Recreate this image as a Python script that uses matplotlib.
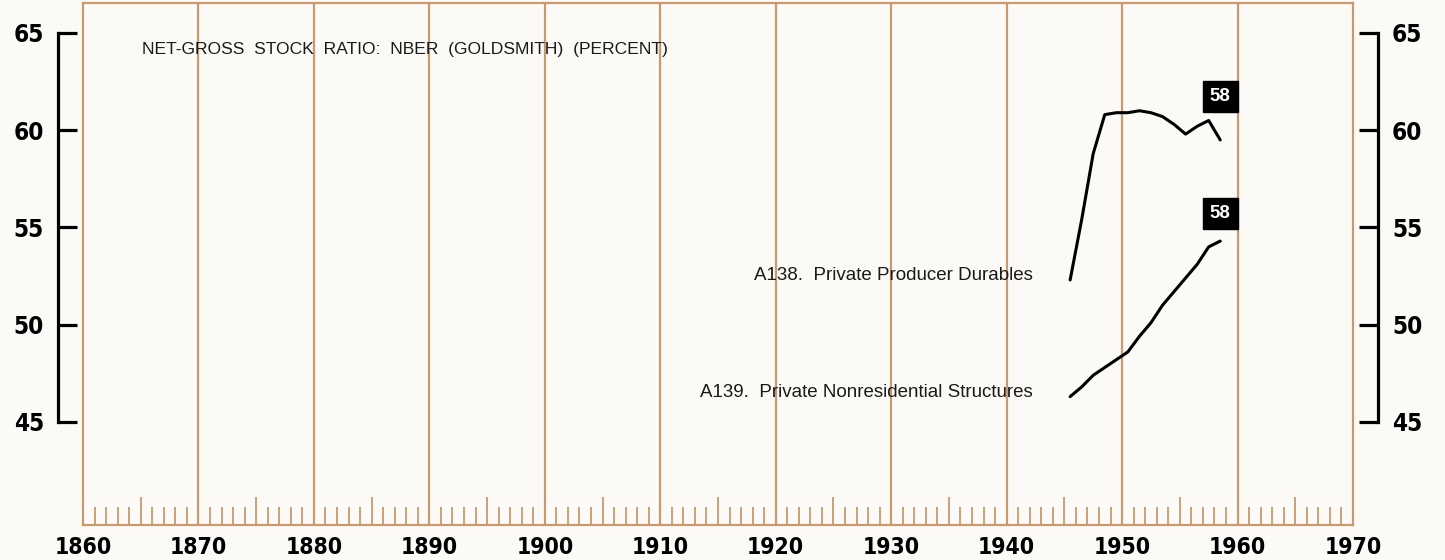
import matplotlib
matplotlib.use("Agg")
import matplotlib.pyplot as plt
from matplotlib.ticker import MultipleLocator, FuncFormatter

# data (net-gross stock ratio, percent)
years = [1945, 1946, 1947, 1948, 1949, 1950, 1951, 1952, 1953, 1954, 1955, 1956, 1957, 1958]
a138 = [52.3, 55.4, 58.8, 60.8, 60.9, 60.9, 61.0, 60.9, 60.7, 60.3, 59.8, 60.2, 60.5, 59.5]
a139 = [46.3, 46.8, 47.4, 47.8, 48.2, 48.6, 49.4, 50.1, 51.0, 51.7, 52.4, 53.1, 54.0, 54.3]
a138_label = "A138.  Private Producer Durables"
a139_label = "A139.  Private Nonresidential Structures"
end_label = "58"
title = "NET-GROSS  STOCK  RATIO:  NBER  (GOLDSMITH)  (PERCENT)"
decades = list(range(1870, 1961, 10))
y_ticks = [45, 50, 55, 60, 65]

BG = "#fbfaf6"
GRID = "#c99a6e"
TXT_FONT = ["Liberation Sans", "DejaVu Sans"]


def num_style(labels, size):
    for lab in labels:
        lab.set_family("DejaVu Sans")
        lab.set_stretch("condensed")
        lab.set_fontweight("bold")
        lab.set_fontsize(size)


fig = plt.figure(figsize=(14.45, 5.6), dpi=100, facecolor=BG)
rect = [83 / 1445, 35 / 560, 1270 / 1445, 522 / 560]
ax = fig.add_axes(rect, facecolor=BG)
ax.set_xlim(1860, 1970)
ax.set_ylim(39.70, 66.54)

for s in ax.spines.values():
    s.set_color(GRID)
    s.set_linewidth(1.6)

# year ticks along the bottom, decade lines full height
ax.xaxis.set_major_locator(MultipleLocator(5))
ax.xaxis.set_minor_locator(MultipleLocator(1))
ax.xaxis.set_major_formatter(FuncFormatter(lambda v, p: f"{int(v)}" if int(v) % 10 == 0 else ""))
ax.tick_params(axis="x", which="major", direction="in", length=20, width=1.3, color=GRID, pad=8)
ax.tick_params(axis="x", which="minor", direction="in", length=13, width=1.3, color=GRID)
num_style(ax.get_xticklabels(), 16.5)
for d in decades:
    ax.axvline(d, color=GRID, lw=1.6, zorder=1)
ax.set_yticks([])

# black y brackets, both sides
for side in ["left", "right"]:
    a = fig.add_axes(rect)
    a.set_ylim(39.70, 66.54)
    a.patch.set_visible(False)
    a.set_xticks([])
    for k, s in a.spines.items():
        s.set_visible(k == side)
    a.spines[side].set_position(("outward", 18))
    a.spines[side].set_bounds(45, 65)
    a.spines[side].set_linewidth(2.3)
    if side == "right":
        a.yaxis.tick_right()
    a.set_yticks(y_ticks)
    a.tick_params(axis="y", direction="in", length=13.5, width=2.3, color="black", pad=10)
    num_style(a.get_yticklabels(), 17.5)

# series (plotted at mid-year)
x = [y + 0.5 for y in years]
ax.plot(x, a138, color="black", lw=2.2, solid_capstyle="round", zorder=3)
ax.plot(x, a139, color="black", lw=2.2, solid_capstyle="round", zorder=3)

for series, label, box_off in [(a138, a138_label, 31), (a139, a139_label, 20)]:
    ax.annotate(label, (x[0], series[0]), xytext=(-27, 3), textcoords="offset points",
                ha="right", va="center", fontsize=13.5, family=TXT_FONT, color="#1a1a1a")
    ax.annotate(end_label, (x[-1], series[-1]), xytext=(0, box_off), textcoords="offset points",
                ha="center", va="center", fontsize=13.5, family=TXT_FONT, fontweight="bold",
                color="white", bbox=dict(boxstyle="square,pad=0.38", fc="black", ec="black"),
                zorder=4)

ax.text(0.0465, 0.91, title, transform=ax.transAxes, ha="left", va="center",
        fontsize=12.6, family=TXT_FONT, color="#1a1a1a")

fig.savefig("out.png", dpi=100, facecolor=BG)
